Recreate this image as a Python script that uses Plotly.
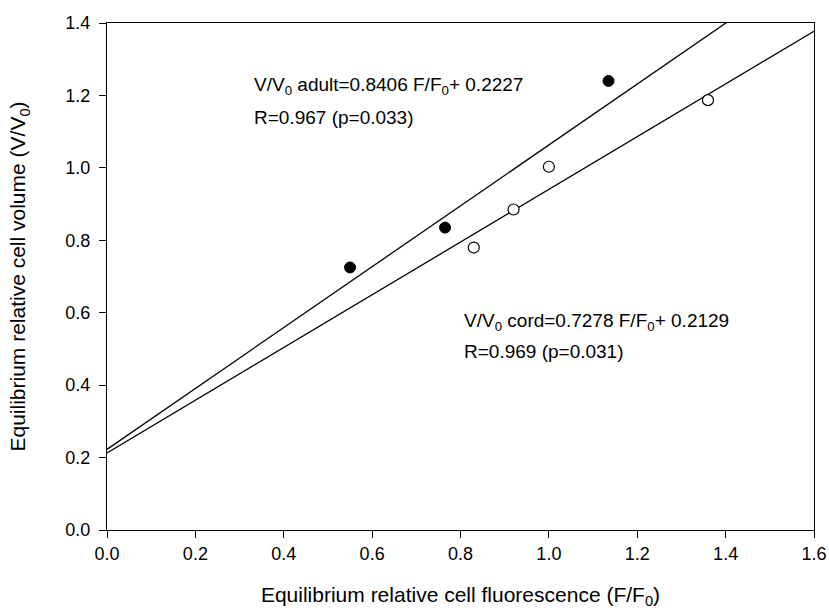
import plotly.graph_objects as go

# Data
adult_x = [0.55, 0.765, 1.135]
adult_y = [0.725, 0.835, 1.24]
cord_x = [0.83, 0.92, 1.0, 1.36]
cord_y = [0.78, 0.885, 1.003, 1.187]

adult_slope, adult_intercept = 0.8406, 0.2227
cord_slope, cord_intercept = 0.7278, 0.2129
line_x = [0.0, 1.6]

x_ticks = [0.0, 0.2, 0.4, 0.6, 0.8, 1.0, 1.2, 1.4, 1.6]
y_ticks = [0.0, 0.2, 0.4, 0.6, 0.8, 1.0, 1.2, 1.4]

FONT = "Liberation Sans, Arial, sans-serif"

fig = go.Figure()
fig.add_trace(go.Scatter(x=line_x, y=[adult_slope * v + adult_intercept for v in line_x],
                         mode="lines", line=dict(color="black", width=1.3), hoverinfo="skip"))
fig.add_trace(go.Scatter(x=line_x, y=[cord_slope * v + cord_intercept for v in line_x],
                         mode="lines", line=dict(color="black", width=1.3), hoverinfo="skip"))
fig.add_trace(go.Scatter(x=adult_x, y=adult_y, mode="markers",
                         marker=dict(size=11, color="black", line=dict(color="black", width=1))))
fig.add_trace(go.Scatter(x=cord_x, y=cord_y, mode="markers",
                         marker=dict(size=11, color="white", line=dict(color="black", width=1.2))))

ann_font = dict(family=FONT, size=19, color="black")
anns = [
    (0.328, 1.226, "V/V<sub>0</sub> adult=0.8406 F/F<sub>0</sub>+ 0.2227"),
    (0.328, 1.140, "R=0.967 (p=0.033)"),
    (0.803, 0.574, "V/V<sub>0</sub> cord=0.7278 F/F<sub>0</sub>+ 0.2129"),
    (0.803, 0.494, "R=0.969 (p=0.031)"),
]
for ax_, ay_, t in anns:
    fig.add_annotation(x=ax_, y=ay_, xref="x", yref="y", text=t, showarrow=False,
                       xanchor="left", yanchor="middle", font=ann_font)

axis_common = dict(showline=True, linecolor="black", linewidth=1.3, mirror=True,
                   ticks="outside", ticklen=7, tickwidth=1.3, tickcolor="black",
                   showgrid=False, zeroline=False,
                   tickfont=dict(family=FONT, size=18, color="black"))

fig.update_xaxes(range=[0, 1.6], tickvals=x_ticks, ticktext=[f"{v:.1f}" for v in x_ticks],
                 title=dict(text="Equilibrium relative cell fluorescence (F/F<sub>0</sub>)",
                            font=dict(family=FONT, size=21, color="black"), standoff=24),
                 **axis_common)
fig.update_yaxes(range=[0, 1.4], tickvals=y_ticks, ticktext=[f"{v:.1f}" for v in y_ticks],
                 ticklabelstandoff=5,
                 title=dict(text="Equilibrium relative cell volume (V/V<sub>0</sub>)",
                            font=dict(family=FONT, size=21, color="black"), standoff=33),
                 **axis_common)

fig.update_layout(width=829, height=615, showlegend=False,
                  margin=dict(l=107, r=15, t=23, b=85, autoexpand=False),
                  plot_bgcolor="white", paper_bgcolor="white")

fig.write_html("out.html")
